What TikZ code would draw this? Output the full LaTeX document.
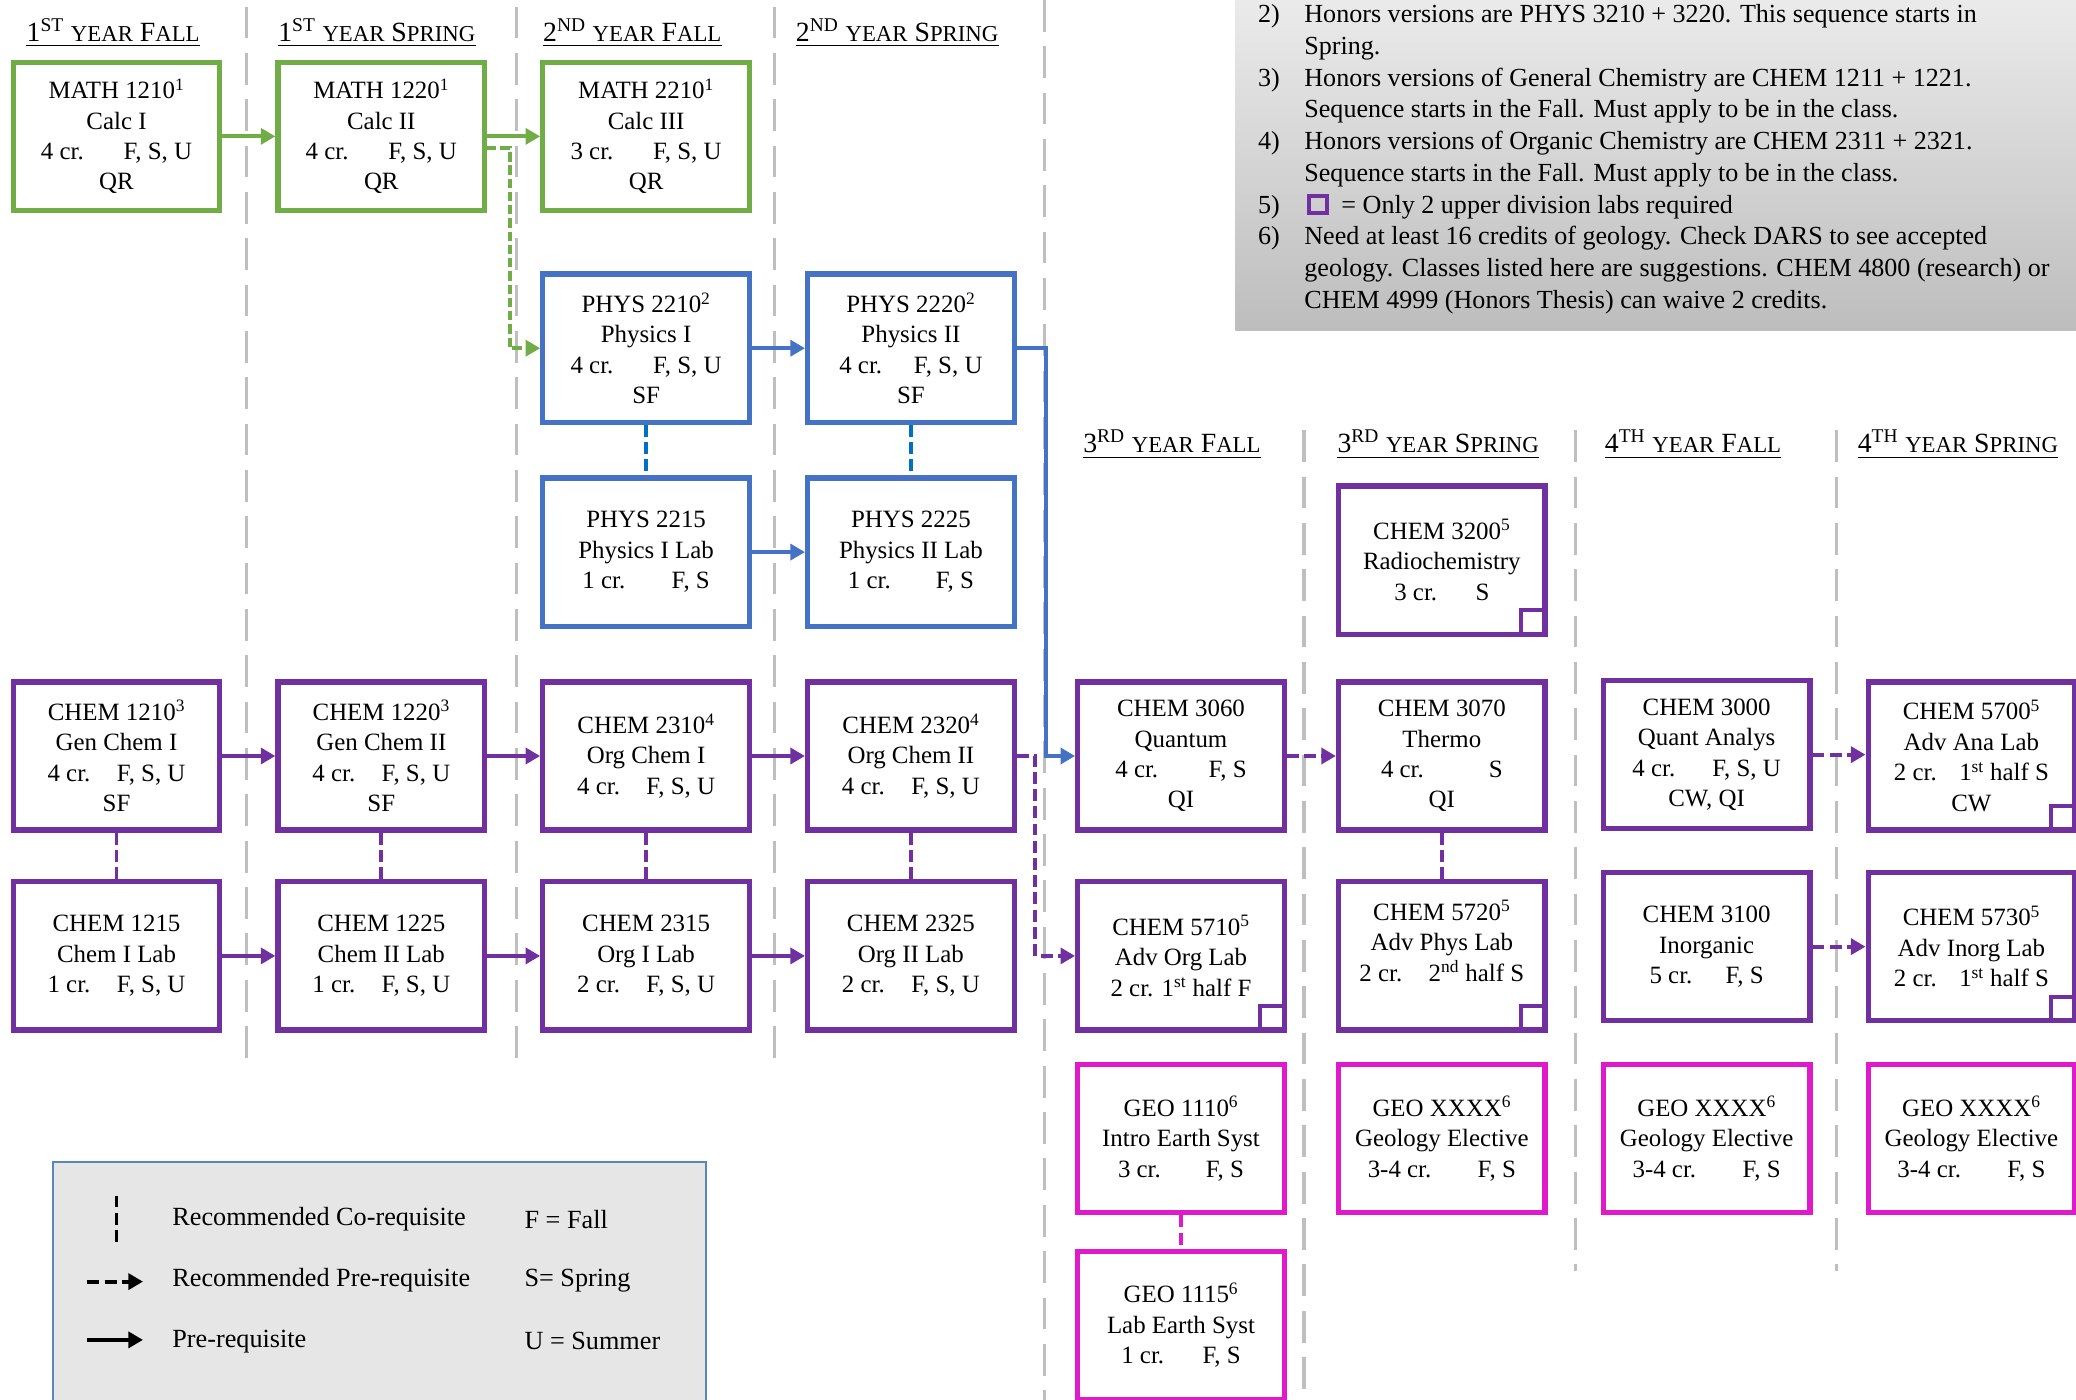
\documentclass[tikz,border=0pt]{standalone}
\usepackage{fontspec}
\setmainfont{Liberation Serif}
\usetikzlibrary{arrows.meta}
\definecolor{cgreen}{HTML}{70AD47}
\definecolor{cblue}{HTML}{4472C4}
\definecolor{cbluecr}{HTML}{0070C0}
\definecolor{cpurple}{HTML}{7030A0}
\definecolor{cmag}{HTML}{E01ACB}
\definecolor{sepgray}{HTML}{BFBFBF}
\definecolor{legfill}{HTML}{E7E6E6}
\definecolor{legborder}{HTML}{5B86B8}
\definecolor{notetop}{HTML}{EBEBEB}
\definecolor{notebot}{HTML}{BDBDBD}
\newcommand{\hsz}{\fontsize{17.2}{17.2}\selectfont}
\newcommand{\hdr}[4]{\fontsize{21}{21}\selectfont #1\textsuperscript{#2} {\hsz YEAR} #3{\hsz #4}}
\begin{document}
\begin{tikzpicture}[x=1pt,y=-1pt,
  course/.style={draw, line width=4pt, rectangle, minimum width=156pt, minimum height=112pt,
    inner sep=0pt, align=center, font=\fontsize{18.8}{23}\selectfont},
  mathbox/.style={course, draw=cgreen},
  physbox/.style={course, draw=cblue},
  chembox/.style={course, draw=cpurple},
  geobox/.style={course, draw=cmag},
  sepline/.style={draw=sepgray, line width=2.5pt, dash pattern=on 24pt off 11pt},
  tipA/.style={-{Triangle[length=11pt,width=12pt]}},
  req/.style={line width=3pt, tipA},
  recreq/.style={line width=3pt, tipA, dash pattern=on 9pt off 4pt},
  coreq/.style={line width=3pt, dash pattern=on 9pt off 4pt},
  hdrnode/.style={inner sep=0pt, anchor=base west},
  uline/.style={line width=1.2pt},
  notetxt/.style={inner sep=0pt, anchor=base west, font=\fontsize{19.7}{24}\selectfont},
  legtxt/.style={inner sep=0pt, anchor=west, font=\fontsize{19.8}{23}\selectfont},
  labmark/.style={draw=cpurple, line width=3pt}
]
\useasboundingbox (0,0) rectangle (1568,1057);

% separators
\draw[sepline] (186,5) -- (186,805);
\draw[sepline] (390,5) -- (390,805);
\draw[sepline] (585,5) -- (585,805);
\draw[sepline] (789,0) -- (789,1060);
\draw[sepline] (985,325) -- (985,1060);
\draw[sepline] (1190,325) -- (1190,960);
\draw[sepline] (1387,325) -- (1387,960);

% headers
\node[hdrnode] (h1) at (20,31) {\hdr{1}{ST}{F}{ALL}};
\node[hdrnode] (h2) at (210,31) {\hdr{1}{ST}{S}{PRING}};
\node[hdrnode] (h3) at (410,31) {\hdr{2}{ND}{F}{ALL}};
\node[hdrnode] (h4) at (601,31) {\hdr{2}{ND}{S}{PRING}};
\node[hdrnode] (h5) at (818,342) {\hdr{3}{RD}{F}{ALL}};
\node[hdrnode] (h6) at (1010,342) {\hdr{3}{RD}{S}{PRING}};
\node[hdrnode] (h7) at (1212,342) {\hdr{4}{TH}{F}{ALL}};
\node[hdrnode] (h8) at (1403,342) {\hdr{4}{TH}{S}{PRING}};
\foreach \h in {h1,h2,h3,h4,h5,h6,h7,h8}
  \draw[uline] ([yshift=-3.5pt]\h.base west) -- ([yshift=-3.5pt]\h.base east);

% notes box
\shade[top color=notetop, bottom color=notebot] (933,-2) rectangle (1570,250);
\node[notetxt] (k2) at (950,17) {2)};
\node[notetxt] (n1) at (985,17) {Honors versions are PHYS 3210 + 3220. This sequence starts in};
\node[notetxt] (n2) at (985,41) {Spring.};
\node[notetxt] (k3) at (950,65) {3)};
\node[notetxt] (n3) at (985,65) {Honors versions of General Chemistry are CHEM 1211 + 1221.};
\node[notetxt] (n4) at (985,89) {Sequence starts in the Fall. Must apply to be in the class.};
\node[notetxt] (k4) at (950,113) {4)};
\node[notetxt] (n5) at (985,113) {Honors versions of Organic Chemistry are CHEM 2311 + 2321.};
\node[notetxt] (n6) at (985,137) {Sequence starts in the Fall. Must apply to be in the class.};
\node[notetxt] (k5) at (950,161) {5)};
\draw[labmark] (989,148) rectangle (1002,161);
\node[notetxt] (n7) at (1013,161) {= Only 2 upper division labs required};
\node[notetxt] (k6) at (950,185) {6)};
\node[notetxt] (n8) at (985,185) {Need at least 16 credits of geology. Check DARS to see accepted};
\node[notetxt] (n9) at (985,209) {geology. Classes listed here are suggestions. CHEM 4800 (research) or};
\node[notetxt] (n10) at (985,233) {CHEM 4999 (Honors Thesis) can waive 2 credits.};

% legend
\draw[draw=legborder, fill=legfill, line width=1.5pt] (40,878) rectangle (533,1065);
\coordinate (lgA1) at (88,903); \coordinate (lgA2) at (88,940);
\coordinate (lgB1) at (66,968); \coordinate (lgB2) at (108,968);
\coordinate (lgC1) at (66,1012); \coordinate (lgC2) at (108,1012);
\draw[coreq] (lgA1) -- (lgA2);
\draw[recreq] (lgB1) -- (lgB2);
\draw[req] (lgC1) -- (lgC2);
\node[legtxt] (t1) at (130,921) {Recommended Co-requisite};
\node[legtxt] (t2) at (130,967) {Recommended Pre-requisite};
\node[legtxt] (t3) at (130,1013) {Pre-requisite};
\node[legtxt] (t4) at (396,921) {F = Fall};
\node[legtxt] (t5) at (396,967) {S= Spring};
\node[legtxt] (t6) at (396,1013) {U = Summer};

% math
\node[mathbox] (m1) at (88,103) {MATH 1210\textsuperscript{1}\\Calc I\\4 cr.\hspace{30pt}F, S, U\\QR};
\node[mathbox] (m2) at (288,103) {MATH 1220\textsuperscript{1}\\Calc II\\4 cr.\hspace{30pt}F, S, U\\QR};
\node[mathbox] (m3) at (488,103) {MATH 2210\textsuperscript{1}\\Calc III\\3 cr.\hspace{30pt}F, S, U\\QR};
% physics
\node[physbox] (p1) at (488,263) {PHYS 2210\textsuperscript{2}\\Physics I\\4 cr.\hspace{30pt}F, S, U\\SF};
\node[physbox] (p2) at (688,263) {PHYS 2220\textsuperscript{2}\\Physics II\\4 cr.\hspace{24pt}F, S, U\\SF};
\node[physbox] (pl1) at (488,417) {PHYS 2215\\Physics I Lab\\1 cr.\hspace{35pt}F, S};
\node[physbox] (pl2) at (688,417) {PHYS 2225\\Physics II Lab\\1 cr.\hspace{34pt}F, S};
% chem lower years
\node[chembox] (c1) at (88,571) {CHEM 1210\textsuperscript{3}\\Gen Chem I\\4 cr.\hspace{20pt}F, S, U\\SF};
\node[chembox] (c2) at (288,571) {CHEM 1220\textsuperscript{3}\\Gen Chem II\\4 cr.\hspace{20pt}F, S, U\\SF};
\node[chembox] (c3) at (488,571) {CHEM 2310\textsuperscript{4}\\Org Chem I\\4 cr.\hspace{20pt}F, S, U};
\node[chembox] (c4) at (688,571) {CHEM 2320\textsuperscript{4}\\Org Chem II\\4 cr.\hspace{20pt}F, S, U};
\node[chembox] (l1) at (88,722) {CHEM 1215\\Chem I Lab\\1 cr.\hspace{20pt}F, S, U};
\node[chembox] (l2) at (288,722) {CHEM 1225\\Chem II Lab\\1 cr.\hspace{20pt}F, S, U};
\node[chembox] (l3) at (488,722) {CHEM 2315\\Org I Lab\\2 cr.\hspace{20pt}F, S, U};
\node[chembox] (l4) at (688,722) {CHEM 2325\\Org II Lab\\2 cr.\hspace{20pt}F, S, U};
% upper years
\node[chembox] (q) at (892,571) {CHEM 3060\\Quantum\\4 cr.\hspace{38pt}F, S\\QI};
\node[chembox] (al) at (892,722) {CHEM 5710\textsuperscript{5}\\Adv Org Lab\\2 cr. 1\textsuperscript{st} half F};
\node[geobox] (g1) at (892,860) {GEO 1110\textsuperscript{6}\\Intro Earth Syst\\3 cr.\hspace{34pt}F, S};
\node[geobox] (g2) at (892,1001) {GEO 1115\textsuperscript{6}\\Lab Earth Syst\\1 cr.\hspace{29pt}F, S};
\node[chembox] (r) at (1089,423) {CHEM 3200\textsuperscript{5}\\Radiochemistry\\3 cr.\hspace{29pt}S};
\node[chembox] (t) at (1089,571) {CHEM 3070\\Thermo\\4 cr.\hspace{49pt}S\\QI};
\node[chembox] (ap) at (1089,722) {CHEM 5720\textsuperscript{5}\\Adv Phys Lab\\2 cr.\hspace{20pt}2\textsuperscript{nd} half S\\~};
\node[geobox] (g3) at (1089,860) {GEO XXXX\textsuperscript{6}\\Geology Elective\\3-4 cr.\hspace{35pt}F, S};
\node[chembox] (ca) at (1289,570) {CHEM 3000\\Quant Analys\\4 cr.\hspace{28pt}F, S, U\\CW, QI};
\node[chembox] (ci) at (1289,715) {CHEM 3100\\Inorganic\\5 cr.\hspace{25pt}F, S};
\node[geobox] (g4) at (1289,860) {GEO XXXX\textsuperscript{6}\\Geology Elective\\3-4 cr.\hspace{35pt}F, S};
\node[chembox] (aa) at (1489,571) {CHEM 5700\textsuperscript{5}\\Adv Ana Lab\\2 cr.\hspace{17pt}1\textsuperscript{st} half S\\CW};
\node[chembox] (ai) at (1489,715) {CHEM 5730\textsuperscript{5}\\Adv Inorg Lab\\2 cr.\hspace{17pt}1\textsuperscript{st} half S};
\node[geobox] (g5) at (1489,860) {GEO XXXX\textsuperscript{6}\\Geology Elective\\3-4 cr.\hspace{35pt}F, S};

% lab markers
\foreach \b in {r,al,ap,aa,ai}
  \draw[labmark] ([xshift=-20pt,yshift=2pt]\b.south east) rectangle ([xshift=-2pt,yshift=20pt]\b.south east);

% connectors: green
\draw[req, cgreen] (m1.east) -- (m2.west);
\draw[req, cgreen] (m2.east) -- (m3.west);
\draw[cgreen, line width=3pt, tipA, dash pattern=on 7pt off 3pt] ([yshift=-9pt]m2.east) -- ++(17pt,0) |- (p1.west);
% blue
\draw[req, cblue] (p1.east) -- (p2.west);
\draw[req, cblue] (pl1.east) -- (pl2.west);
\draw[req, cblue] (p2.east) -- ++(22pt,0) |- (q.west);
\draw[coreq, cbluecr] (p1.south) -- (pl1.north);
\draw[coreq, cbluecr] (p2.south) -- (pl2.north);
% purple
\draw[req, cpurple] (c1.east) -- (c2.west);
\draw[req, cpurple] (c2.east) -- (c3.west);
\draw[req, cpurple] (c3.east) -- (c4.west);
\draw[req, cpurple] (l1.east) -- (l2.west);
\draw[req, cpurple] (l2.east) -- (l3.west);
\draw[req, cpurple] (l3.east) -- (l4.west);
\draw[coreq, cpurple] (c1.south) -- (l1.north);
\draw[coreq, cpurple] (c2.south) -- (l2.north);
\draw[coreq, cpurple] (c3.south) -- (l3.north);
\draw[coreq, cpurple] (c4.south) -- (l4.north);
\draw[coreq, cpurple] (t.south) -- (ap.north);
\draw[recreq, cpurple] (c4.east) -- ++(14pt,0) |- (al.west);
\draw[recreq, cpurple] (q.east) -- (t.west);
\draw[recreq, cpurple] (ca.east) -- (ca.east -| aa.west);
\draw[recreq, cpurple] (ci.east) -- (ai.west);
\draw[coreq, cmag] (g1.south) -- (g2.north);
\end{tikzpicture}
\end{document}
